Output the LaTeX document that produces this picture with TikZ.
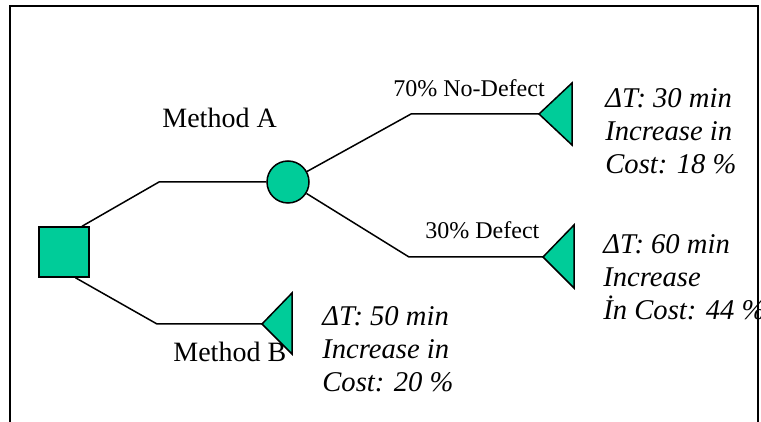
\documentclass[tikz,border=0pt]{standalone}
\usepackage{fontspec}
\setmainfont{Liberation Serif}
\usetikzlibrary{calc}
\definecolor{dgreen}{RGB}{0,204,153}
\begin{document}
\begin{tikzpicture}[x=0.5pt,y=-0.5pt]
\tikzset{
  shp/.style={draw=black, fill=dgreen, line width=0.75pt},
  conn/.style={draw=black, line width=0.75pt},
  lbl/.style={inner sep=0, anchor=base west, font=\fontsize{14}{16}\selectfont},
  prob/.style={inner sep=0, anchor=base west, font=\fontsize{12}{14}\selectfont},
  outc/.style={inner sep=0, anchor=base west, align=left, font=\fontsize{14.3}{16.6}\selectfont\itshape},
}
\useasboundingbox (0,0) rectangle (761,422);
\draw[line width=1pt] (10,422) -- (10,6) -- (758,6) -- (758,422);

% decision and chance nodes
\node[shp, minimum size=25pt, inner sep=0] (d) at (64,252) {};
\node[shp, circle, minimum size=21pt, inner sep=0] (c) at (288,182) {};

% branch points and outcome tips
\coordinate (bA) at (159,182);
\coordinate (bB) at (157,324);
\coordinate (tipB) at (262,324);
\coordinate (bN) at (411,114);
\coordinate (tipN) at (539,114);
\coordinate (bD) at (409,257);
\coordinate (tipD) at (543,257);

% outcome triangles
\filldraw[shp] (tipB) -- (292,293) -- (292,354) -- cycle;
\filldraw[shp] (tipN) -- (572,83) -- (572,145) -- cycle;
\filldraw[shp] (tipD) -- (574,225) -- (574,288) -- cycle;

% connectors
\draw[conn] (d.55) -- (bA) -- (c.west);
\draw[conn] (d.-66) -- (bB) -- (tipB);
\draw[conn] (c) -- (bN) -- (tipN);
\draw[conn] (c) -- (bD) -- (tipD);

% labels
\node[lbl] (ma) at (162,128) {Method A};
\node[lbl] (mb) at (173,362) {Method B};
\node[prob] (p1) at (393,97) {70\% No-Defect};
\node[prob] (p2) at (425,239) {30\% Defect};
\node[outc] (o1) at (605,174) {ΔT: 30 min\\Increase in\\Cost: 18 \%};
\node[outc] (o2) at (603,320) {ΔT: 60 min\\Increase\\İn Cost: 44 \%};
\node[outc] (o3) at (322,392) {ΔT: 50 min\\Increase in\\Cost: 20 \%};
\end{tikzpicture}
\end{document}
